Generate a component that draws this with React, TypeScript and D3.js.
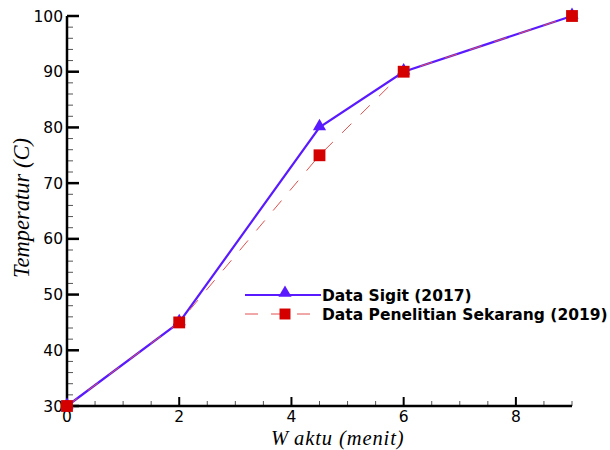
import * as d3 from 'd3';
import React, { useRef, useEffect } from 'react';

// waktu (menit)
const waktu = [0, 2, 4.5, 6, 9];
const sigit2017 = [30, 45, 80, 90, 100];
const penelitian2019 = [30, 45, 75, 90, 100];

const xTicks = [0, 2, 4, 6, 8];
const yTicks = [30, 40, 50, 60, 70, 80, 90, 100];

const seriesNames = ['Data Sigit (2017)', 'Data Penelitian Sekarang (2019)'];

function App() {
    const ref = useRef<SVGSVGElement>(null);

    useEffect(() => {
        const svg = d3.select(ref.current);
        svg.selectAll('*').remove();

        const x = d3.scaleLinear().domain([0, 9]).range([67, 572]);
        const y = d3.scaleLinear().domain([30, 100]).range([406, 16]);

        const blue = '#5a1aff';
        const red = '#d40000';
        const dashRed = '#e05050';

        // minor ticks
        const xMinor = d3.range(0, 9.01, 0.5).filter(d => d % 2 !== 0);
        const yMinor = d3.range(30, 100.01, 2).filter(d => d % 10 !== 0);

        const axes = svg.append('g');
        axes.selectAll('.xminor')
            .data(xMinor)
            .enter()
            .append('line')
            .attr('x1', d => x(d)).attr('x2', d => x(d))
            .attr('y1', y(30)).attr('y2', y(30) - 5)
            .attr('stroke', '#555').attr('stroke-width', 1);
        axes.selectAll('.xmajor')
            .data(xTicks)
            .enter()
            .append('line')
            .attr('x1', d => x(d)).attr('x2', d => x(d))
            .attr('y1', y(30)).attr('y2', y(30) - 9)
            .attr('stroke', '#000').attr('stroke-width', 2);
        axes.selectAll('.yminor')
            .data(yMinor)
            .enter()
            .append('line')
            .attr('x1', x(0)).attr('x2', x(0) + 6)
            .attr('y1', d => y(d)).attr('y2', d => y(d))
            .attr('stroke', '#555').attr('stroke-width', 1);
        axes.selectAll('.ymajor')
            .data(yTicks)
            .enter()
            .append('line')
            .attr('x1', x(0)).attr('x2', x(0) + 12)
            .attr('y1', d => y(d)).attr('y2', d => y(d))
            .attr('stroke', '#000').attr('stroke-width', 2.5);

        axes.append('path')
            .attr('d', `M${x(0)},${y(100)}V${y(30)}H${x(9)}`)
            .attr('fill', 'none')
            .attr('stroke', '#000')
            .attr('stroke-width', 2.5);

        const tickFont = '"DejaVu Sans", Verdana, sans-serif';
        axes.selectAll('.xlabel')
            .data(xTicks)
            .enter()
            .append('text')
            .attr('x', d => x(d))
            .attr('y', y(30) + 16)
            .attr('text-anchor', 'middle')
            .attr('font-family', tickFont)
            .attr('font-size', 15.5)
            .text(d => d);
        axes.selectAll('.ylabel')
            .data(yTicks)
            .enter()
            .append('text')
            .attr('x', x(0) - 4)
            .attr('y', d => y(d) + 5.5)
            .attr('text-anchor', 'end')
            .attr('font-family', tickFont)
            .attr('font-size', 15.5)
            .text(d => d);

        // axis titles
        const serif = '"Liberation Serif", "Times New Roman", serif';
        const xTitle = svg.append('text')
            .attr('x', 271)
            .attr('y', 445)
            .attr('font-family', serif)
            .attr('font-style', 'italic')
            .attr('font-size', 20.5)
            .attr('letter-spacing', 0.9);
        xTitle.append('tspan').text('W');
        xTitle.append('tspan').attr('dx', 7).text('aktu (menit)');

        svg.append('text')
            .attr('transform', `translate(29,${208}) rotate(-90)`)
            .attr('text-anchor', 'middle')
            .attr('font-family', serif)
            .attr('font-style', 'italic')
            .attr('font-size', 22.5)
            .text('Temperatur (C)');

        const line = d3.line<number>()
            .x((d, i) => x(waktu[i]))
            .y(d => y(d));

        svg.append('path')
            .datum(sigit2017)
            .attr('d', line)
            .attr('fill', 'none')
            .attr('stroke', blue)
            .attr('stroke-width', 2.2);

        svg.append('path')
            .datum(penelitian2019)
            .attr('d', line)
            .attr('fill', 'none')
            .attr('stroke', dashRed)
            .attr('stroke-width', 1)
            .attr('stroke-dasharray', '13,13');

        const triangle = d3.symbol().type(d3.symbolTriangle).size(75);
        const square = d3.symbol().type(d3.symbolSquare).size(140);

        svg.selectAll('.tri')
            .data(sigit2017)
            .enter()
            .append('path')
            .attr('d', triangle)
            .attr('transform', (d, i) => `translate(${x(waktu[i])},${y(d) - 1})`)
            .attr('fill', blue);

        svg.selectAll('.sq')
            .data(penelitian2019)
            .enter()
            .append('path')
            .attr('d', square)
            .attr('transform', (d, i) => `translate(${x(waktu[i])},${y(d)})`)
            .attr('fill', red);

        // legend
        const legend = svg.append('g');
        legend.append('line')
            .attr('x1', 245).attr('x2', 321)
            .attr('y1', 295).attr('y2', 295)
            .attr('stroke', blue).attr('stroke-width', 2.2);
        legend.append('path')
            .attr('d', triangle)
            .attr('transform', 'translate(285,293)')
            .attr('fill', blue);
        legend.append('line')
            .attr('x1', 245).attr('x2', 321)
            .attr('y1', 314).attr('y2', 314)
            .attr('stroke', dashRed).attr('stroke-width', 1)
            .attr('stroke-dasharray', '13,13');
        legend.append('path')
            .attr('d', d3.symbol().type(d3.symbolSquare).size(120))
            .attr('transform', 'translate(285,314)')
            .attr('fill', red);
        legend.selectAll('.ltext')
            .data(seriesNames)
            .enter()
            .append('text')
            .attr('x', 322)
            .attr('y', (d, i) => 300.5 + i * 19)
            .attr('font-family', tickFont)
            .attr('font-weight', 'bold')
            .attr('font-size', 15.5)
            .text(d => d);
    }, []);

    return (
        <svg ref={ref} width={610} height={450}
             style={{ position: 'absolute', left: 0, top: 0, background: '#fff' }} />
    );
}

export default App;
